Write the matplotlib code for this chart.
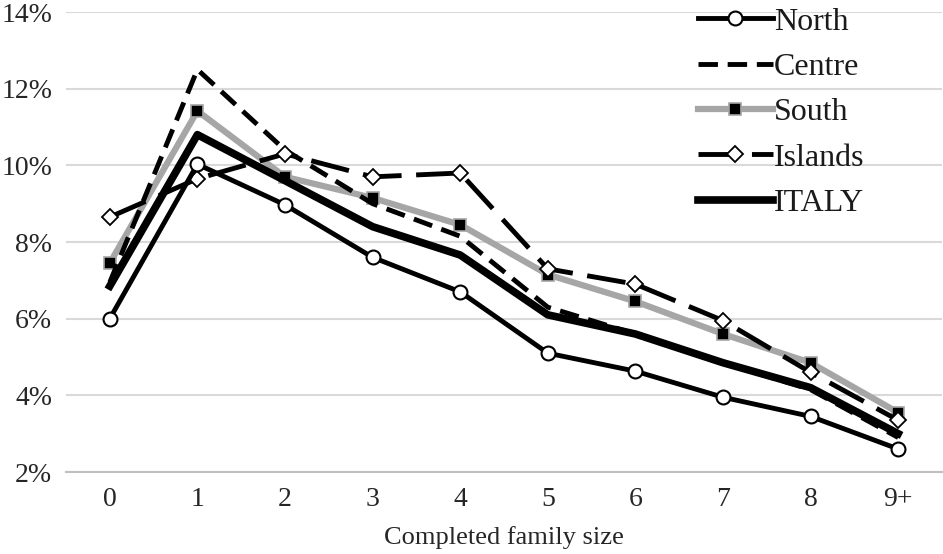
import matplotlib
matplotlib.use("Agg")
import matplotlib.pyplot as plt
from matplotlib.ticker import FuncFormatter

categories = ["0", "1", "2", "3", "4", "5", "6", "7", "8", "9+"]
north = [6.0, 10.03, 8.97, 7.6, 6.7, 5.1, 4.63, 3.95, 3.45, 2.6]
centre = [6.95, 12.5, 10.4, 9.0, 8.15, 6.3, 5.6, 4.85, 4.15, 2.9]
south = [7.45, 11.42, 9.7, 9.15, 8.45, 7.15, 6.45, 5.6, 4.85, 3.55]
islands = [8.65, 9.65, 10.3, 9.7, 9.8, 7.3, 6.9, 5.95, 4.6, 3.35]
italy = [6.85, 10.8, 9.6, 8.4, 7.66, 6.1, 5.6, 4.85, 4.2, 3.0]

plt.rcParams['font.family'] = ['Liberation Serif', 'DejaVu Serif']

fig = plt.figure(figsize=(9.43, 5.54), dpi=100)
ax = fig.add_axes([66/943, 1 - 472/554, (942-66)/943, (472-12)/554])

x = list(range(len(categories)))
ax.plot(x, north, color='black', lw=3.5, marker='o', ms=10, mfc='white', mec='black', mew=1.5, label='North', zorder=5)
ax.plot(x, centre, color='black', lw=3.5, dashes=(4, 2), label='Centre', zorder=4)
ax.plot(x, south, color='#a6a6a6', lw=4.5, marker='s', ms=8.5, mfc='black', mec='#a6a6a6', mew=1.2, label='South', zorder=3)
ax.plot(x, islands, color='black', lw=3.5, dashes=(8, 3), marker='D', ms=8, mfc='white', mec='black', mew=1.3, label='Islands', zorder=4)
ax.plot(x, italy, color='black', lw=5.5, label='ITALY', zorder=4)

ax.set_xlim(-0.5, len(categories) - 0.5)
ax.set_ylim(2, 14)
ax.set_yticks([2, 4, 6, 8, 10, 12, 14])
ax.yaxis.set_major_formatter(FuncFormatter(lambda v, p: f"{v:.0f}%"))
ax.set_xticks(x)
ax.set_xticklabels(categories)
ax.grid(axis='y', color='#d9d9d9', lw=1.5)
ax.set_axisbelow(True)
for s in ['top', 'right', 'left']:
    ax.spines[s].set_visible(False)
ax.spines['bottom'].set_color('#bfbfbf')
ax.spines['bottom'].set_linewidth(1.5)
ax.tick_params(axis='y', length=0, labelsize=20, colors='#262626', pad=10)
ax.tick_params(axis='x', length=0, labelsize=20, colors='#262626', pad=11)
ax.set_xlabel("Completed family size", fontsize=19, color='#262626', labelpad=10)

leg = ax.legend(loc='upper right', bbox_to_anchor=(0.93, 1.045), frameon=False, fontsize=23,
                handlelength=2.35, handletextpad=0.05, labelspacing=0.5, borderpad=0)
for t in leg.get_texts():
    t.set_color('#1a1a1a')

fig.savefig("out.png", dpi=100)
